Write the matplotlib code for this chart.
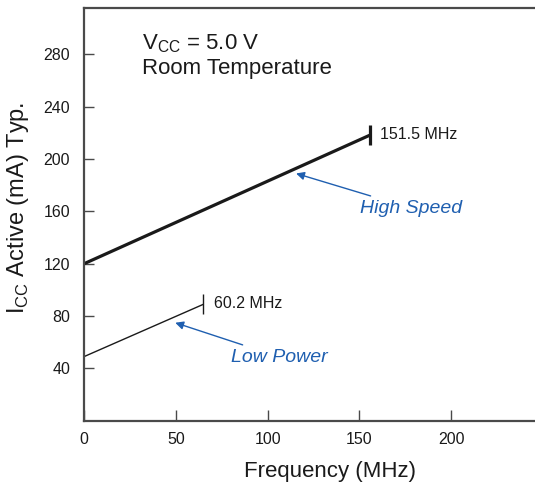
import matplotlib
matplotlib.use("Agg")
import matplotlib.pyplot as plt

plt.rcParams['font.family'] = ['Liberation Sans', 'DejaVu Sans']

# Data
hs_freq = [0, 156]          # High Speed line, MHz (drawn positions)
hs_icc = [120, 218.5]       # mA
lp_freq = [0, 65]           # Low Power line
lp_icc = [49, 89]
hs_label = "151.5 MHz"
lp_label = "60.2 MHz"
x_ticks = [0, 50, 100, 150, 200]
y_ticks = [40, 80, 120, 160, 200, 240, 280]

blue = '#1f5fb0'
dark = '#1a1a1a'
spine_col = '#4a4a4a'

fig = plt.figure(figsize=(5.35, 4.86), dpi=100)
ax = fig.add_axes([84/535, 1-421/486, 1-84/535, (421-8)/486])
ax.set_xlim(0, 245.6)
ax.set_ylim(-0.2, 315.5)

ax.plot(hs_freq, hs_icc, color=dark, lw=2.3, solid_capstyle='butt')
ax.plot(lp_freq, lp_icc, color=dark, lw=1.0, solid_capstyle='butt')
# end markers
ax.plot([hs_freq[-1]], [hs_icc[-1]], marker='|', ms=14, mew=2.3, color=dark)
ax.plot([lp_freq[-1]], [lp_icc[-1]], marker='|', ms=14, mew=1.0, color=dark)

ax.text(hs_freq[-1] + 5, hs_icc[-1], hs_label, fontsize=11.5, va='center', ha='left', color=dark)
ax.text(lp_freq[-1] + 6, lp_icc[-1] + 1, lp_label, fontsize=11.5, va='center', ha='left', color=dark)

ax.annotate('High Speed', xy=(115.5, 189.0), xytext=(150.1, 162.6), fontsize=14, style='italic',
            color=blue, va='center', ha='left',
            arrowprops=dict(arrowstyle='-|>', color=blue, lw=1.0, mutation_scale=12,
                            shrinkA=2, shrinkB=0))
ax.annotate('Low Power', xy=(49.7, 74.9), xytext=(80.2, 48.7), fontsize=14, style='italic',
            color=blue, va='center', ha='left',
            arrowprops=dict(arrowstyle='-|>', color=blue, lw=1.0, mutation_scale=12,
                            shrinkA=2, shrinkB=0))

ax.text(31.7, 288.5, r'V$_{\mathregular{CC}}$ = 5.0 V', fontsize=16, va='center', ha='left', color=dark)
ax.text(31.7, 269.5, 'Room Temperature', fontsize=16, va='center', ha='left', color=dark)

ax.set_xticks(x_ticks)
ax.set_yticks(y_ticks)
ax.tick_params(axis='both', direction='in', labelsize=11.5, colors=spine_col, labelcolor=dark, width=1.0)
ax.tick_params(axis='x', length=8, pad=8)
ax.tick_params(axis='y', length=7, pad=10)

for s in ['left', 'bottom', 'top']:
    ax.spines[s].set_linewidth(1.6)
    ax.spines[s].set_color(spine_col)
ax.spines['right'].set_visible(False)

ax.set_xlabel('Frequency (MHz)', fontsize=16, color=dark)
ax.xaxis.set_label_coords(0.545, -0.097)
ax.set_ylabel(r'I$_{\mathregular{CC}}$ Active (mA) Typ.', fontsize=17, color=dark)
ax.yaxis.set_label_coords(-0.118, 0.516)

fig.savefig('out.png', dpi=100)
